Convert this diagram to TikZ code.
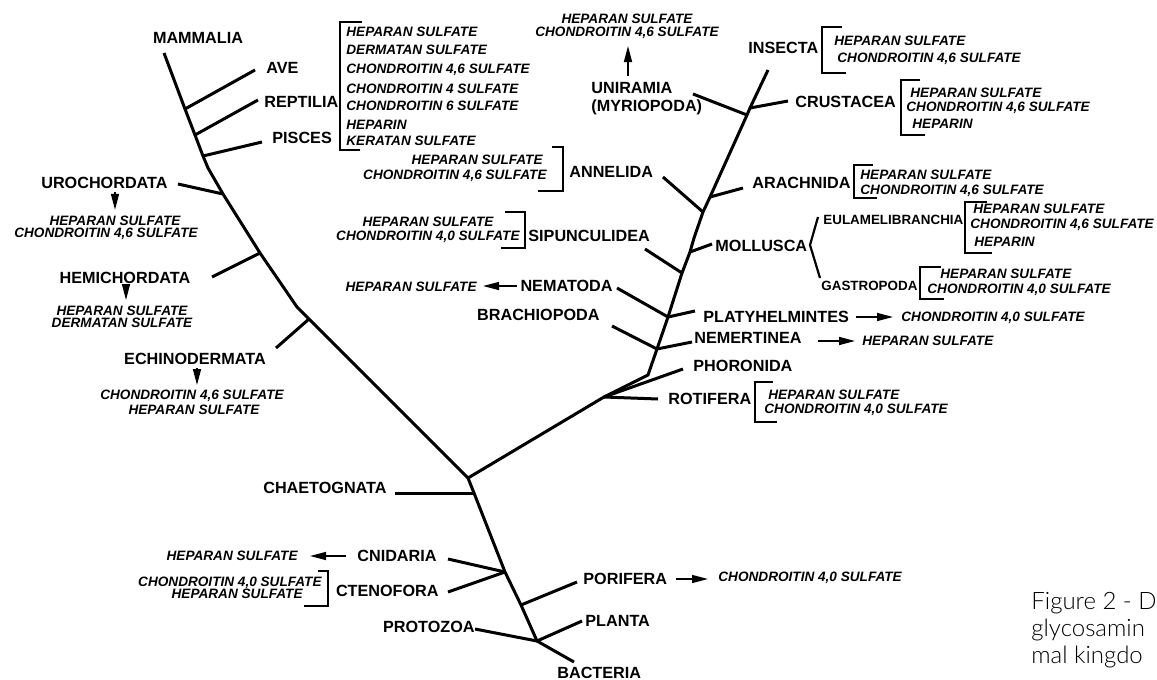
\documentclass[tikz,border=0pt]{standalone}
\usepackage{fontspec}
\setmainfont{Liberation Sans}
\IfFontExistsTF{Lato Light}{\newfontfamily\captionfont{Lato Light}}{\newfontfamily\captionfont{Lato}}
\usetikzlibrary{arrows.meta}
\tikzset{
  taxon/.style={font=\bfseries\fontsize{8.1}{9}\selectfont, inner sep=0pt},
  subtaxon/.style={font=\bfseries\fontsize{6.7}{8}\selectfont, inner sep=0pt},
  gag/.style={font=\bfseries\itshape\fontsize{6.8}{6.8}\selectfont, inner sep=0pt},
  branch/.style={line width=1.5pt},
  brack/.style={line width=0.75pt},
  gagarrow/.style={line width=0.75pt, -{Triangle[length=8pt,width=4pt]}},
}
\begin{document}
\begin{tikzpicture}[x=0.5pt,y=-0.5pt]
\useasboundingbox (0,0) rectangle (1157,680);
% deuterostome trunk
\coordinate (mam) at (164,53);
\coordinate (jAve) at (185,109);
\coordinate (jRep) at (195,135);
\coordinate (jPis) at (203,156);
\coordinate (bend1) at (208,168);
\coordinate (jUro) at (223,194);
\coordinate (jHemi) at (260,253);
\coordinate (bend2) at (297,307);
\coordinate (jEch) at (309,319);
\coordinate (root) at (468,478);
% lower trunk
\coordinate (jCha) at (474,493);
\coordinate (jCni) at (505,572);
\coordinate (jPor) at (521,605);
\coordinate (jBot) at (537,641);
\coordinate (eBac) at (574,662);
% protostome trunk
\coordinate (jRot) at (604,397);
\coordinate (tr1) at (648,375);
\coordinate (jNem) at (657,349);
\coordinate (jPla) at (668,317);
\coordinate (jSip) at (682,273);
\coordinate (jMol) at (690,252);
\coordinate (kink) at (694,238);
\coordinate (jAnn) at (703,212);
\coordinate (jAra) at (710,197);
\coordinate (jUni) at (747,115);
\coordinate (jCru) at (750,108);
\coordinate (ins) at (768,70);
% branch ends
\coordinate (eAve) at (255,70);
\coordinate (eRep) at (258,100);
\coordinate (ePis) at (262,142);
\coordinate (eUro) at (178,184);
\coordinate (eHemi) at (212,277);
\coordinate (eEch) at (276,348);
\coordinate (eCha) at (395,493);
\coordinate (eCni) at (448,559);
\coordinate (eCte) at (448,592);
\coordinate (ePro) at (475,629);
\coordinate (ePor) at (577,582);
\coordinate (ePla) at (582,621);
\coordinate (eRot) at (658,399);
\coordinate (ePho) at (683,369);
\coordinate (eBra) at (612,326);
\coordinate (eNemer) at (692,342);
\coordinate (eNema) at (617,288);
\coordinate (ePlat) at (695,311);
\coordinate (eSip) at (645,249);
\coordinate (eMol) at (712,244);
\coordinate (eAnn) at (663,177);
\coordinate (eAra) at (743,188);
\coordinate (eUni) at (693,94);
\coordinate (eCru) at (788,101);

\draw[branch] (mam) -- (jAve) -- (jRep) -- (jPis) -- (bend1) -- (jUro) -- (jHemi) -- (bend2) -- (jEch) -- (root);
\draw[branch] (root) -- (jCha) -- (jCni) -- (jPor) -- (jBot) -- (eBac);
\draw[branch] (root) -- (jRot) -- (tr1) -- (jNem) -- (jPla) -- (jSip) -- (jMol) -- (kink) -- (jAnn) -- (jAra) -- (jUni) -- (jCru) -- (ins);
\foreach \a/\b in {jAve/eAve, jRep/eRep, jPis/ePis, jUro/eUro, jHemi/eHemi, jEch/eEch,
  jCha/eCha, jCni/eCni, jCni/eCte, jBot/ePro, jPor/ePor, jBot/ePla,
  jRot/eRot, jRot/ePho, jNem/eBra, jNem/eNemer, jPla/eNema, jPla/ePlat,
  jSip/eSip, jMol/eMol, jAnn/eAnn, jAra/eAra, jUni/eUni, jCru/eCru}
  \draw[branch] (\a) -- (\b);

% taxa
\node[taxon] (mammalia) at (198,38) {MAMMALIA};
\node[taxon, anchor=west] (ave) at (266,68) {AVE};
\node[taxon, anchor=west] (reptilia) at (264,102) {REPTILIA};
\node[taxon, anchor=west] (pisces) at (272,138) {PISCES};
\node[taxon, anchor=east] (urochordata) at (168,183) {UROCHORDATA};
\node[taxon] (hemichordata) at (125,278) {HEMICHORDATA};
\node[taxon] (echinodermata) at (195,359) {ECHINODERMATA};
\node[taxon, anchor=east] (chaetognata) at (387,488) {CHAETOGNATA};
\node[taxon, anchor=east] (cnidaria) at (437,556) {CNIDARIA};
\node[taxon, anchor=east] (ctenofora) at (439,591) {CTENOFORA};
\node[taxon, anchor=east] (protozoa) at (475,627) {PROTOZOA};
\node[taxon, anchor=west] (porifera) at (583,579) {PORIFERA};
\node[taxon, anchor=west] (planta) at (585,621) {PLANTA};
\node[taxon, anchor=west] (bacteria) at (557,673) {BACTERIA};
\node[taxon, anchor=west] (rotifera) at (668,399) {ROTIFERA};
\node[taxon, anchor=west] (phoronida) at (693,366) {PHORONIDA};
\node[taxon, anchor=west] (nemertinea) at (694,338) {NEMERTINEA};
\node[taxon, anchor=west] (platyhelmintes) at (703,317) {PLATYHELMINTES};
\node[taxon, anchor=east] (brachiopoda) at (600,315) {BRACHIOPODA};
\node[taxon, anchor=east] (nematoda) at (613,286) {NEMATODA};
\node[taxon, anchor=west] (sipunculidea) at (528,236) {SIPUNCULIDEA};
\node[taxon, anchor=west] (mollusca) at (715,246) {MOLLUSCA};
\node[subtaxon, anchor=west] (eulamelibranchia) at (823,220) {EULAMELIBRANCHIA};
\node[subtaxon, anchor=west] (gastropoda) at (821,286) {GASTROPODA};
\node[taxon, anchor=west] (annelida) at (569,172) {ANNELIDA};
\node[taxon, anchor=west] (arachnida) at (752,183) {ARACHNIDA};
\node[taxon, anchor=west, align=left] (uniramia) at (591,99) {UNIRAMIA\\(MYRIOPODA)};
\node[taxon, anchor=west] (crustacea) at (795,102) {CRUSTACEA};
\node[taxon, anchor=west] (insecta) at (748,48) {INSECTA};

% mollusca brace
\draw[line width=1.1pt] (818,217) -- (810,245) -- (820,278);

% vertebrate glycosaminoglycans
\foreach \y/\t [count=\i] in {32/HEPARAN SULFATE, 50/DERMATAN SULFATE, 70/{CHONDROITIN 4,6 SULFATE},
  89/{CHONDROITIN 4 SULFATE}, 106/{CHONDROITIN 6 SULFATE}, 125/HEPARIN, 141/KERATAN SULFATE}
  \node[gag, anchor=west] (vert\i) at (346,\y) {\t};
\draw[brack] (362,22) -- (340,22) -- (340,150) -- (360,150);

% annelida
\node[gag, anchor=east] (annH) at (543,160) {HEPARAN SULFATE};
\node[gag, anchor=east] (annC) at (547,176) {CHONDROITIN 4,6 SULFATE};
\draw[brack] (552,147) -- (563,147) -- (563,191) -- (538,191);

% sipunculidea
\node[gag] (sipH) at (428,222) {HEPARAN SULFATE};
\node[gag, anchor=east] (sipC) at (520,237) {CHONDROITIN 4,0 SULFATE};
\draw[brack] (505,212) -- (525,212) -- (525,248) -- (501,248);

% nematoda
\node[gag, anchor=east] (nemaH) at (477,287) {HEPARAN SULFATE};
\draw[gagarrow, shorten <=1.5pt, shorten >=3pt] (nematoda.west) -- (nemaH.east |- nematoda.west);

% uniramia
\node[gag, align=center] (uniG) at (627,26.5) {HEPARAN SULFATE\\CHONDROITIN 4,6 SULFATE};
\draw[gagarrow, shorten <=3pt, shorten >=3pt] (uniramia.north -| 628,0) -- (628,40);

% insecta
\draw[brack] (842,27) -- (822,27) -- (822,73) -- (846,73);
\node[gag, anchor=west] (insH) at (834,41) {HEPARAN SULFATE};
\node[gag, anchor=west] (insC) at (837,59) {CHONDROITIN 4,6 SULFATE};

% crustacea
\draw[brack] (920,80) -- (901,80) -- (901,135) -- (925,135);
\node[gag, anchor=west] (cruH) at (910,93) {HEPARAN SULFATE};
\node[gag, anchor=west] (cruC) at (906,108) {CHONDROITIN 4,6 SULFATE};
\node[gag, anchor=west] (cruP) at (912,124) {HEPARIN};

% arachnida
\draw[brack] (873,165) -- (854,165) -- (854,198) -- (877,198);
\node[gag, anchor=west] (araH) at (860,175) {HEPARAN SULFATE};
\node[gag, anchor=west] (araC) at (860,191) {CHONDROITIN 4,6 SULFATE};

% eulamelibranchia
\draw[brack] (987,202) -- (965,202) -- (965,253) -- (992,253);
\node[gag, anchor=west] (eulH) at (973,209) {HEPARAN SULFATE};
\node[gag, anchor=west] (eulC) at (970,225) {CHONDROITIN 4,6 SULFATE};
\node[gag, anchor=west] (eulP) at (974,242) {HEPARIN};

% gastropoda
\draw[brack] (941,267) -- (920,267) -- (920,299) -- (944,299);
\node[gag, anchor=west] (gasH) at (940,274) {HEPARAN SULFATE};
\node[gag, anchor=west] (gasC) at (927,290) {CHONDROITIN 4,0 SULFATE};

% platyhelmintes, nemertinea
\node[gag, anchor=west] (platC) at (901,318) {CHONDROITIN 4,0 SULFATE};
\draw[gagarrow, shorten <=3.5pt, shorten >=4pt] (platyhelmintes.east) -- (platC.west |- platyhelmintes.east);
\node[gag, anchor=west] (nemerH) at (862,341) {HEPARAN SULFATE};
\draw[gagarrow, shorten <=8pt, shorten >=3.5pt] (nemertinea.east |- nemerH.west) -- (nemerH.west);

% rotifera
\draw[brack] (773,382) -- (755,382) -- (755,422) -- (777,422);
\node[gag, anchor=west] (rotH) at (768,395) {HEPARAN SULFATE};
\node[gag, anchor=west] (rotC) at (764,410) {CHONDROITIN 4,0 SULFATE};

% deuterostome glycosaminoglycans
\node[gag] (uroH) at (115,221) {HEPARAN SULFATE};
\node[gag] (uroC) at (106,234) {CHONDROITIN 4,6 SULFATE};
\draw[gagarrow, shorten <=1.5pt, shorten >=3pt] (urochordata.south -| uroH.north) -- (uroH.north);
\node[gag] (hemiH) at (122,311) {HEPARAN SULFATE};
\node[gag] (hemiD) at (122,323) {DERMATAN SULFATE};
\draw[gagarrow, shorten <=1.5pt, shorten >=3pt] (hemichordata.south -| 126,0) -- (126,306);
\node[gag] (echC) at (192,396) {CHONDROITIN 4,6 SULFATE};
\node[gag] (echH) at (194,410) {HEPARAN SULFATE};
\draw[gagarrow, shorten <=1.5pt, shorten >=3pt] (echinodermata.south -| 197,0) -- (197,391);

% radiata and sponges
\node[gag, anchor=east] (cniH) at (298,556) {HEPARAN SULFATE};
\draw[gagarrow, shorten <=5.5pt, shorten >=6pt] (cnidaria.west) -- (cniH.east |- cnidaria.west);
\node[gag, anchor=east] (cteC) at (322,583) {CHONDROITIN 4,0 SULFATE};
\node[gag, anchor=east] (cteH) at (303,594) {HEPARAN SULFATE};
\draw[brack] (318,571) -- (328,571) -- (328,606) -- (304,606);
\node[gag, anchor=west] (porC) at (718,578) {CHONDROITIN 4,0 SULFATE};
\draw[gagarrow, shorten <=4pt, shorten >=5pt] (porifera.east) -- (porC.west |- porifera.east);

% caption
\node[font=\captionfont\fontsize{12}{13.5}\selectfont, anchor=north west, align=left, inner sep=0pt] (caption) at (1031,592) {Figure 2 - D\\glycosamin\\mal kingdo};
\end{tikzpicture}
\end{document}
